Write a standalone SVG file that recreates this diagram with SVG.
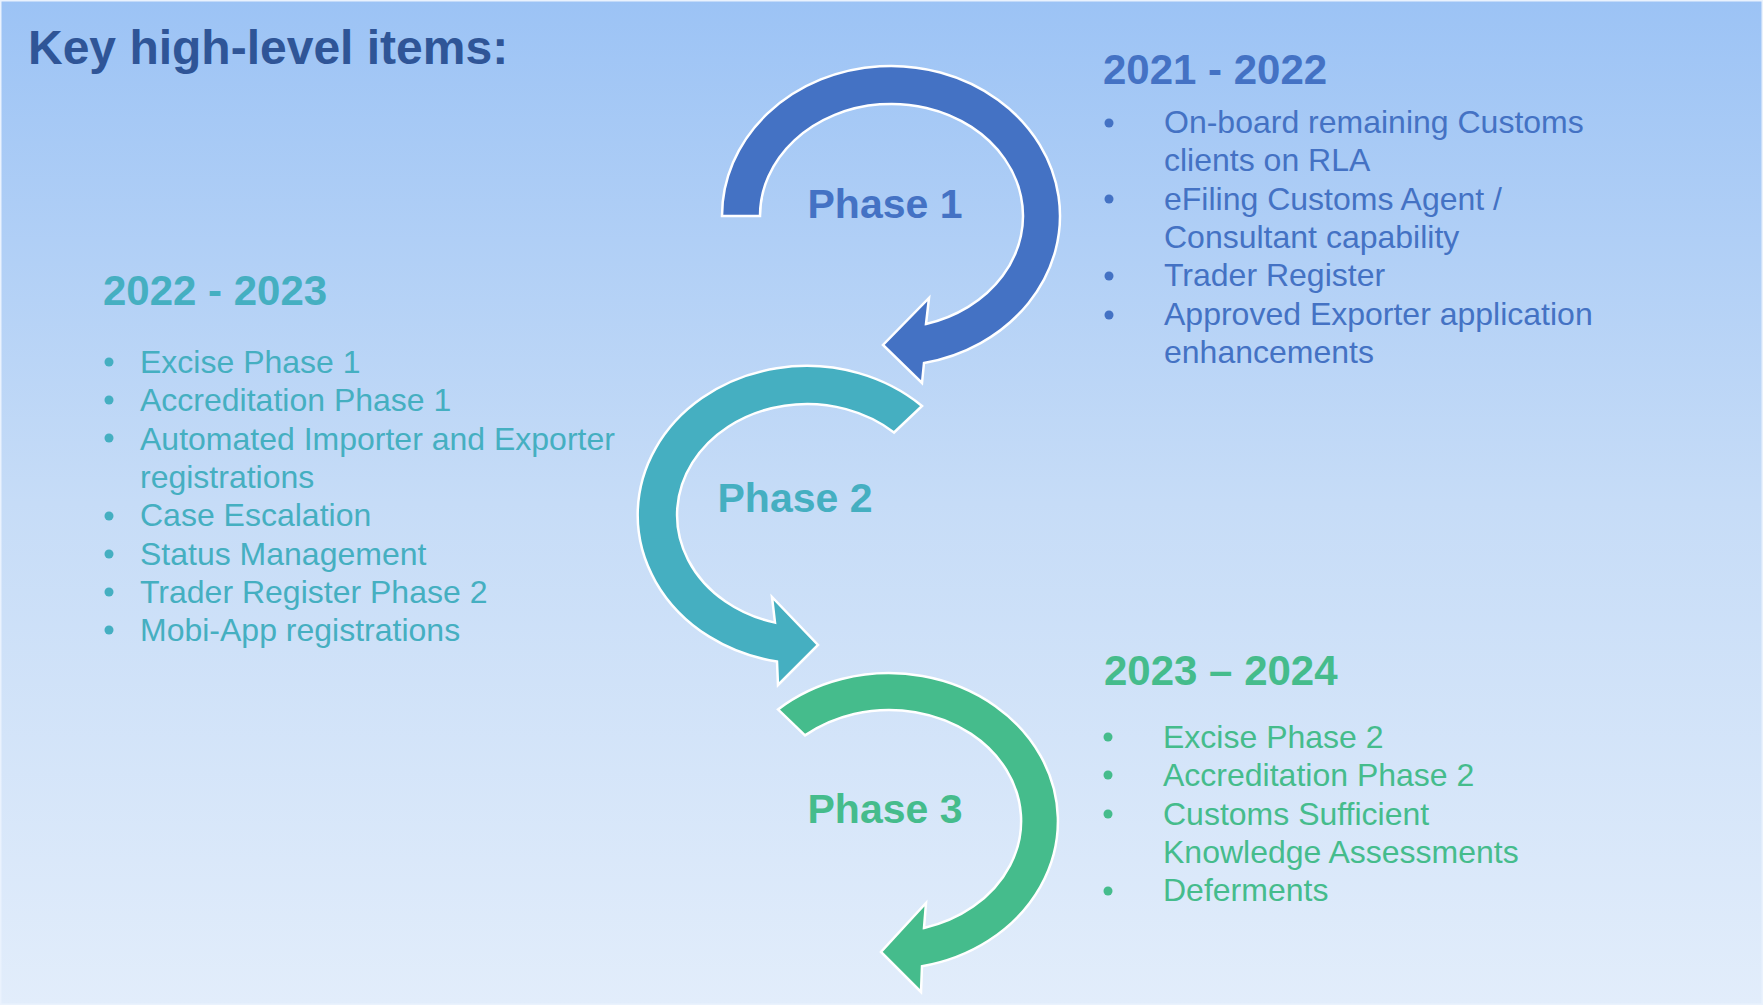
<svg xmlns="http://www.w3.org/2000/svg" width="1763" height="1005" viewBox="0 0 1763 1005">
<defs>
<linearGradient id="bg" x1="0" y1="0" x2="0" y2="1">
<stop offset="0" stop-color="#9CC3F5"/>
<stop offset="0.5" stop-color="#C6DCF7"/>
<stop offset="1" stop-color="#E2EDFB"/>
</linearGradient>
<style>
.arr{stroke:#FFFFFF;stroke-width:2.5;stroke-linejoin:miter}
.t{font-family:"Liberation Sans",Arial,sans-serif}
.b{font-weight:bold}
.title{font-size:48px;fill:#2F5597}
.hd{font-size:42px}
.ph{font-size:41px;text-anchor:middle}
.body{font-size:32px}
.blue{fill:#4472C4}
.teal{fill:#45AFC1}
.green{fill:#45BC8C}
</style>
</defs>
<rect x="0" y="0" width="1763" height="1005" fill="url(#bg)"/>
<rect x="0.75" y="0.75" width="1761.5" height="1003.5" fill="none" stroke="#EAF2FD" stroke-width="1.5"/>

<g id="title">
<text class="t b title" x="28" y="64">Key high-level items:</text>
</g>

<g id="connectors">
<path id="arrow-phase1" class="arr" fill="#4472C4" d="M 722 216 A 169 150 0 1 1 924 363 L 922 383 L 883 345 L 929 298 L 926 324 A 131.5 112 0 1 0 760 216 Z"/>
<path id="arrow-phase2" class="arr" fill="#45AFC1" d="M 922 406 A 169 149 0 1 0 777 661.6 L 778 685 L 818 645 L 772 597 L 775 622.6 A 130 111 0 1 1 894 432.5 Z"/>
<path id="arrow-phase3" class="arr" fill="#45BC8C" d="M 778 709.4 A 169 148 0 1 1 922 966.2 L 921 992 L 881 952 L 926 903 L 924 928 A 132 111 0 1 0 805 735.4 Z"/>
</g>

<g id="phase1">
<text class="t b ph blue" x="885" y="218">Phase 1</text>
</g>
<g id="phase2">
<text class="t b ph teal" x="795" y="512">Phase 2</text>
</g>
<g id="phase3">
<text class="t b ph green" x="885" y="823">Phase 3</text>
</g>

<g id="list-2021-2022">
<text class="t b hd blue" x="1103" y="84">2021 - 2022</text>
<g class="blue">
<circle cx="1109" cy="123" r="4.5"/>
<circle cx="1109" cy="199" r="4.5"/>
<circle cx="1109" cy="276" r="4.5"/>
<circle cx="1109" cy="315" r="4.5"/>
</g>
<text class="t body blue" x="1164" y="133">On-board remaining Customs</text>
<text class="t body blue" x="1164" y="171">clients on RLA</text>
<text class="t body blue" x="1164" y="210">eFiling Customs Agent /</text>
<text class="t body blue" x="1164" y="248">Consultant capability</text>
<text class="t body blue" x="1164" y="286">Trader Register</text>
<text class="t body blue" x="1164" y="325">Approved Exporter application</text>
<text class="t body blue" x="1164" y="363">enhancements</text>
</g>

<g id="list-2022-2023">
<text class="t b hd teal" x="103" y="305">2022 - 2023</text>
<g class="teal">
<circle cx="109" cy="362" r="4.5"/>
<circle cx="109" cy="400" r="4.5"/>
<circle cx="109" cy="438" r="4.5"/>
<circle cx="109" cy="516" r="4.5"/>
<circle cx="109" cy="554" r="4.5"/>
<circle cx="109" cy="592" r="4.5"/>
<circle cx="109" cy="630" r="4.5"/>
</g>
<text class="t body teal" x="140" y="373">Excise Phase 1</text>
<text class="t body teal" x="140" y="411">Accreditation Phase 1</text>
<text class="t body teal" x="140" y="450">Automated Importer and Exporter</text>
<text class="t body teal" x="140" y="488">registrations</text>
<text class="t body teal" x="140" y="526">Case Escalation</text>
<text class="t body teal" x="140" y="565">Status Management</text>
<text class="t body teal" x="140" y="603">Trader Register Phase 2</text>
<text class="t body teal" x="140" y="641">Mobi-App registrations</text>
</g>

<g id="list-2023-2024">
<text class="t b hd green" x="1104" y="685">2023 – 2024</text>
<g class="green">
<circle cx="1108" cy="737" r="4.5"/>
<circle cx="1108" cy="775" r="4.5"/>
<circle cx="1108" cy="814" r="4.5"/>
<circle cx="1108" cy="891" r="4.5"/>
</g>
<text class="t body green" x="1163" y="748">Excise Phase 2</text>
<text class="t body green" x="1163" y="786">Accreditation Phase 2</text>
<text class="t body green" x="1163" y="825">Customs Sufficient</text>
<text class="t body green" x="1163" y="863">Knowledge Assessments</text>
<text class="t body green" x="1163" y="901">Deferments</text>
</g>
</svg>
